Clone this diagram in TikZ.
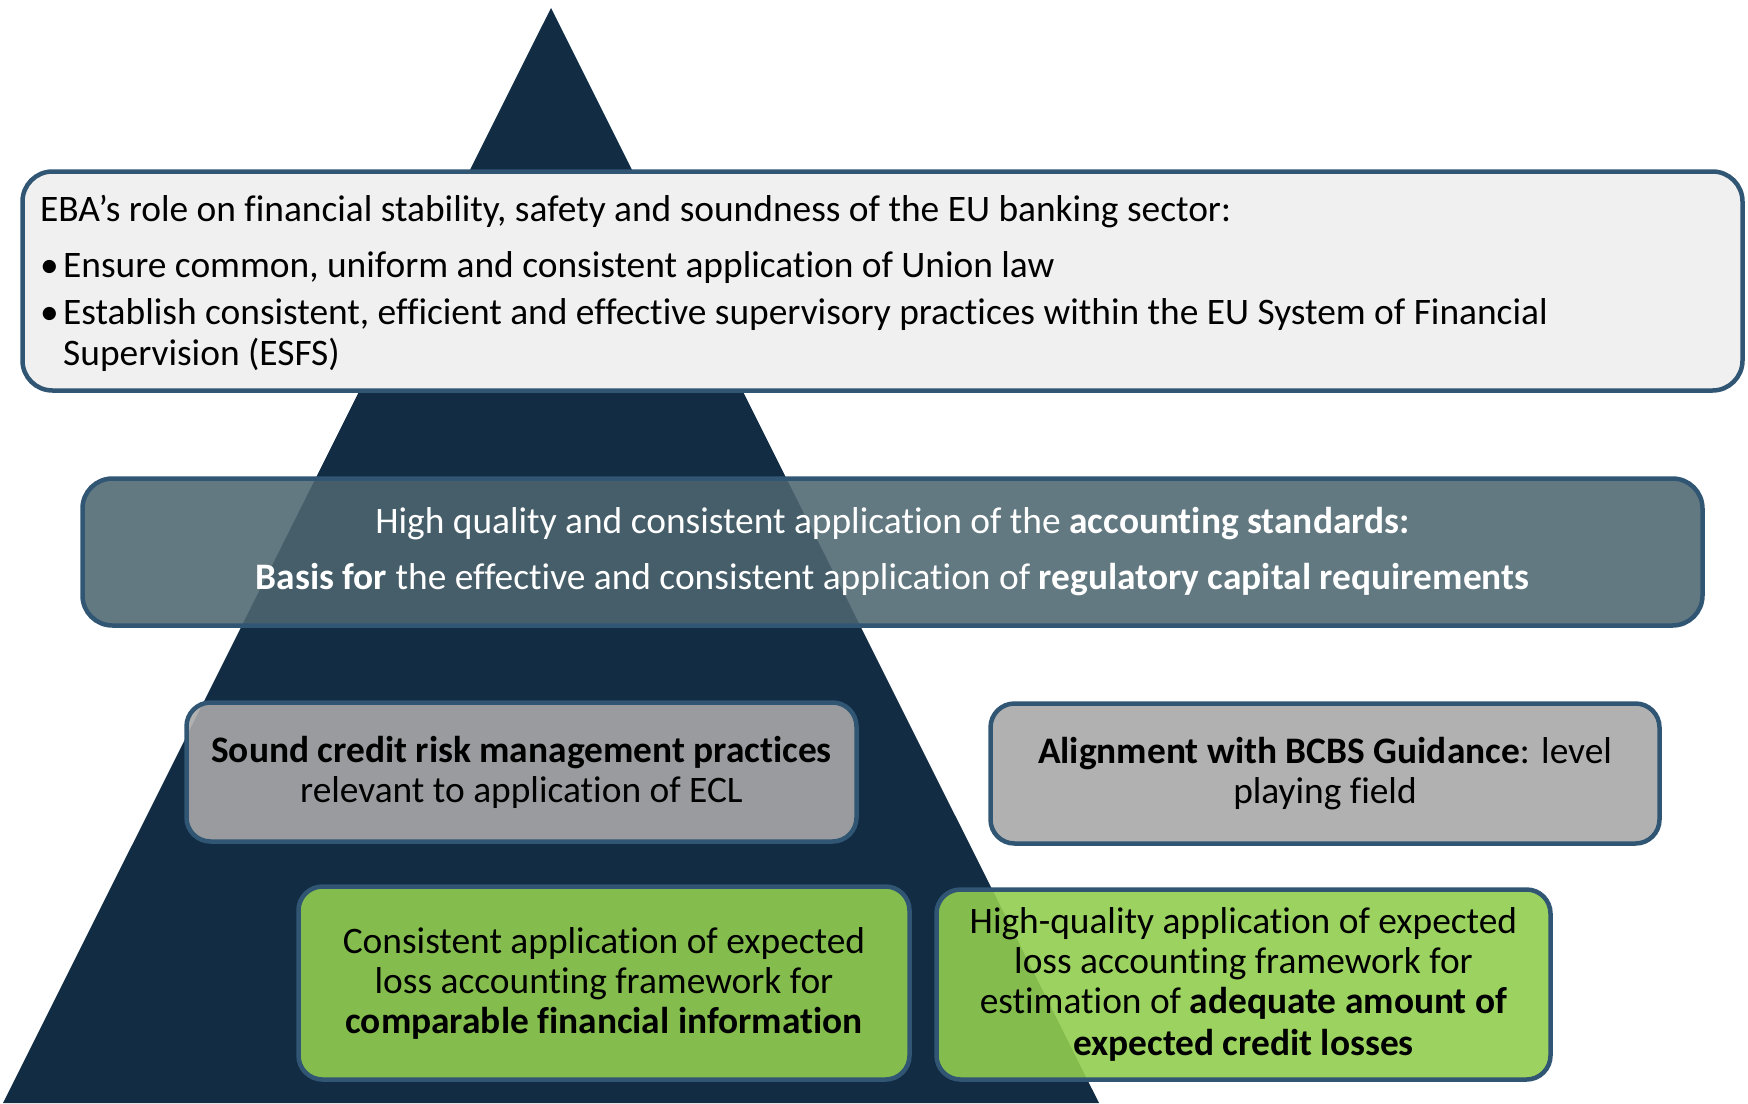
\documentclass[tikz,border=0pt]{standalone}
\usepackage{fontspec}
\setmainfont{Carlito}[Ligatures=NoCommon]
\definecolor{navy}{RGB}{18,44,68}
\definecolor{bordercol}{RGB}{48,86,116}
\definecolor{topfill}{RGB}{240,240,240}
\definecolor{midfill}{RGB}{77,102,111}
\definecolor{greyfill}{RGB}{168,168,168}
\definecolor{greenfill}{RGB}{145,205,79}
\begin{document}
\begin{tikzpicture}[x=1pt,y=-1pt,
  box/.style={draw=bordercol, line width=4.5pt, rounded corners=24pt, inner sep=0pt,
    align=center, font=\fontsize{37.4}{40}\selectfont, text=black},
  seethrough/.style={fill opacity=0.9, text opacity=1, draw opacity=1}]
\useasboundingbox (0,0) rectangle (1748,1103);
\fill[navy] (551,8) -- (1099,1103) -- (3,1103) -- cycle;
% top box
\node[box, fill=topfill, minimum width=1720pt, minimum height=219pt, rounded corners=30pt] (top) at (882.5,281) {};
\node[anchor=west, inner sep=0pt, align=left, font=\fontsize{37.4}{40}\selectfont] (toptext) at (40,283)
 {EBA’s role on financial stability, safety and soundness of the EU banking sector:\\[16pt]
  \makebox[23pt][l]{•}Ensure common, uniform and consistent application of Union law\\[7pt]
  \makebox[23pt][l]{•}Establish consistent, efficient and effective supervisory practices within the EU System of Financial\\[1pt]
  \hspace*{23pt}Supervision (ESFS)};
% middle box
\node[box, seethrough, fill=midfill, fill opacity=0.88, text=white, minimum width=1620pt, minimum height=147pt, rounded corners=30pt] (mid) at (892.5,552)
 {High quality and consistent application of the \textbf{accounting standards:}\\[16pt]
  \textbf{Basis for} the effective and consistent application of \textbf{regulatory capital requirements}};
% grey boxes
\node[box, seethrough, fill=greyfill, minimum width=670pt, minimum height=139pt] (sound) at (521.5,772)
 {\textbf{Sound credit risk management practices}\\ relevant to application of ECL};
\node[box, seethrough, fill=greyfill, minimum width=669pt, minimum height=140pt] (bcbs) at (1325,773.5)
 {\textbf{Alignment with BCBS Guidance}: level\\ playing field};
% green boxes
\node[box, seethrough, fill=greenfill, minimum width=611pt, minimum height=193pt] (consistent) at (604,983)
 {Consistent application of expected\\ loss accounting framework for\\ \textbf{comparable financial information}};
\node[box, seethrough, fill=greenfill, minimum width=614pt, minimum height=190pt] (quality) at (1243.5,984.5)
 {High-quality application of expected\\ loss accounting framework for\\ estimation of \textbf{adequate amount of}\\[2pt] \textbf{expected credit losses}};
\end{tikzpicture}
\end{document}
